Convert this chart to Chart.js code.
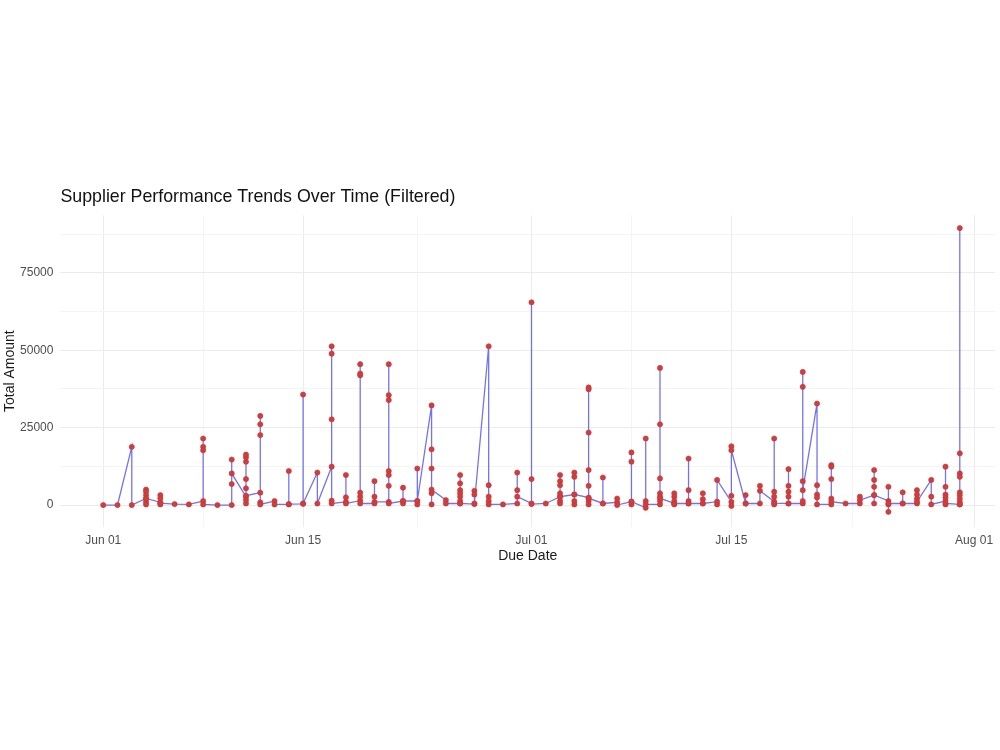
<!DOCTYPE html>
<html>
<head>
<meta charset="utf-8">
<script src="https://cdn.jsdelivr.net/npm/chart.js@4.4.1/dist/chart.umd.min.js"></script>
<style>
  html, body { margin: 0; padding: 0; background: #fff; }
  #wrap { width: 1000px; height: 750px; position: relative; }
</style>
</head>
<body>
<div id="wrap"><canvas id="supplierChart"></canvas></div>
<script>
// due dates are stored as days counted from Jun 01
const dayTicks = [0, 14, 30, 44, 61];
const dayTickLabels = ['Jun 01', 'Jun 15', 'Jul 01', 'Jul 15', 'Aug 01'];
const minorDayTicks = [7, 22, 37, 52.5];
const amountTicks = [0, 25000, 50000, 75000];
const minorAmountTicks = [12500, 37500, 62500, 87500];

const dueDays = [
  0, 1, 2, 3, 4, 5, 6, 7, 8, 9, 10, 11, 12, 13, 14, 15, 16, 17, 18, 19,
  20, 21, 22, 23, 24, 25, 26, 27, 28, 29, 30, 31, 32, 33, 34, 35, 36, 37, 38, 39,
  40, 41, 42, 43, 44, 45, 46, 47, 48, 49, 50, 51, 52, 53, 54, 55, 56, 57, 58, 59, 60
];

// total amounts per due date, in the order the line passes through them
const amountsByDay = [
  [0],
  [0],
  [18800, 0],
  [2100, 5000, 4300, 3200, 1000, 200, 2100],
  [900, 3200, 2200, 200, 600],
  [300],
  [200],
  [1300, 21500, 18800, 17700, 200],
  [0],
  [0, 14700, 6800, 10200],
  [2700, 500, 1600, 5400, 8400, 14000, 15400, 16300, 3000],
  [4000, 22600, 26100, 28800, 900, 200],
  [1300, 200],
  [200, 11000, 300],
  [400, 35700, 500],
  [10500, 500],
  [12400, 27700, 48900, 51300, 1400, 500],
  [1000, 9700, 2500, 500],
  [1400, 2700, 4000, 41900, 42500, 45500, 500],
  [500, 7700, 2700, 1000],
  [1000, 45500, 35500, 33900, 11000, 9700, 6200, 500],
  [1300, 5600, 500, 1300],
  [1300, 11800, 200, 1300],
  [32200, 18000, 11800, 200, 3800, 5000],
  [1600, 500],
  [500, 9700, 7000, 4800, 3800, 2700, 1300, 500],
  [300, 4600, 3400, 500],
  [51300, 6400, 2700, 1300, 200],
  [200],
  [500, 10500, 4800, 2700],
  [500, 65500, 8400, 300],
  [500],
  [2700, 9700, 7700, 6400, 3800, 1300, 500, 2700],
  [3400, 200, 1300, 9100, 10500, 3400],
  [2400, 38000, 37400, 23400, 11300, 6200, 1300, 200, 2200],
  [500, 8900, 500],
  [900, 2100, 0],
  [1100, 17000, 14000, 200, 1100],
  [-900, 21500, 1300, 200],
  [200, 44300, 26100, 8600, 3800, 2700, 1300, 2200],
  [500, 3800, 2700, 1300, 200, 500],
  [500, 15000, 4800, 1300, 500],
  [500, 3800, 1900, 500],
  [1100, 200, 8100],
  [1000, -300, 3000, 19000, 17700],
  [500, 3200, 500],
  [500, 6200, 4600],
  [1100, 21500, 4300, 2700, 200, 600],
  [500, 11600, 6200, 4300, 2700, 500],
  [500, 43000, 38200, 7700, 1300, 4800],
  [32800, 6400, 3400, 2400, 200],
  [200, 12900, 12400, 8400, 2100, 1100],
  [500],
  [500, 2700, 1600],
  [3200, 11300, 8100, 5900, 500, 3200],
  [1300, 5900, 200, -2200, 500],
  [500, 4100, 500],
  [500, 4800, 3400, 2100, 1100],
  [8100, 2700, 200],
  [1300, 12400, 5900, 3400, 2400, 200, 500],
  [200, 89500, 16700, 10200, 9100, 4100, 3200, 2100, 1000, 200]
];

// flatten into {x, y} points, keeping the order
const points = [];
dueDays.forEach((day, i) => {
  amountsByDay[i].forEach((amt) => points.push({ x: day, y: amt }));
});

const MAJOR_GRID = '#ebebeb';
const MINOR_GRID = '#f4f4f4';

function setTicks(major, minor) {
  return function (scale) {
    scale.ticks = major.concat(minor).sort((a, b) => a - b).map((v) => ({ value: v }));
  };
}

function gridColor(major) {
  return (ctx) => (ctx.tick && major.includes(ctx.tick.value) ? MAJOR_GRID : MINOR_GRID);
}

Chart.defaults.font.family = '"Liberation Sans", Arial, sans-serif';

const ctx = document.getElementById('supplierChart').getContext('2d');
new Chart(ctx, {
  type: 'scatter',
  data: {
    datasets: [{
      label: 'Total Amount',
      data: points,
      showLine: true,
      borderColor: 'rgba(90, 90, 240, 0.85)',
      borderWidth: 1.3,
      tension: 0,
      pointRadius: 2.6,
      pointHoverRadius: 2.6,
      pointBackgroundColor: '#cf3d3d',
      pointBorderColor: '#c93535',
      pointBorderWidth: 0.6,
    }],
  },
  options: {
    responsive: true,
    maintainAspectRatio: false,
    animation: false,
    layout: { padding: { top: 186.5, left: 0, right: 0, bottom: 178 } },
    scales: {
      x: {
        type: 'linear',
        min: -3,
        max: 62.47,
        afterBuildTicks: setTicks(dayTicks, minorDayTicks),
        afterFit: (scale) => { scale.height = 45; },
        border: { display: false },
        grid: { color: gridColor(dayTicks), lineWidth: 1, drawTicks: false },
        ticks: {
          autoSkip: false,
          maxRotation: 0,
          padding: 6.8,
          color: '#4d4d4d',
          font: { size: 12 },
          callback: (value) => {
            const i = dayTicks.indexOf(value);
            return i >= 0 ? dayTickLabels[i] : '';
          },
        },
        title: {
          display: true,
          text: 'Due Date',
          color: '#1a1a1a',
          font: { size: 14 },
          padding: { top: 0, bottom: 7.6 },
        },
      },
      y: {
        min: -7100,
        max: 93600,
        afterBuildTicks: setTicks(amountTicks, minorAmountTicks),
        afterFit: (scale) => { scale.width = 60.4; },
        border: { display: false },
        grid: { color: gridColor(amountTicks), lineWidth: 1, drawTicks: false },
        ticks: {
          autoSkip: false,
          padding: 7,
          color: '#4d4d4d',
          font: { size: 12 },
          callback: (value) => (amountTicks.includes(value) ? String(value) : ''),
        },
        title: {
          display: true,
          text: 'Total Amount',
          color: '#1a1a1a',
          font: { size: 14 },
          padding: { top: 2, bottom: 0 },
        },
      },
    },
    plugins: {
      legend: { display: false },
      tooltip: { enabled: false },
      title: {
        display: true,
        text: 'Supplier Performance Trends Over Time (Filtered)',
        align: 'start',
        fullSize: false,
        color: '#111',
        font: { size: 17.8, weight: 'normal' },
        padding: { top: 0, bottom: 7.5 },
      },
    },
  },
});
</script>
</body>
</html>
